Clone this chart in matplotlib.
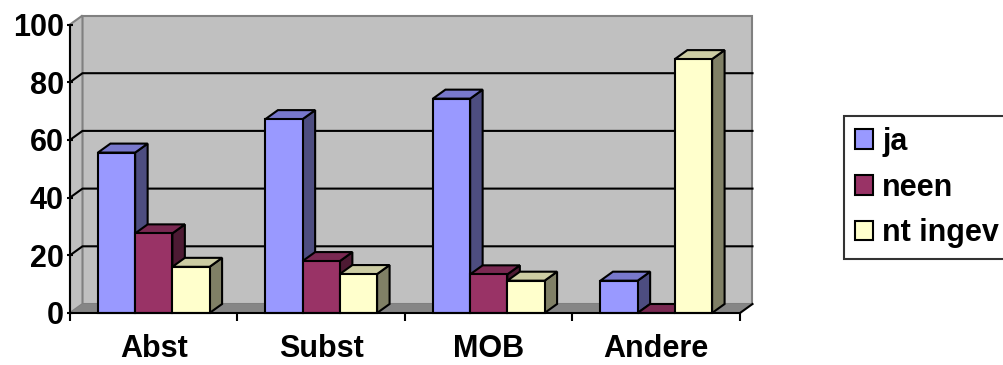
import matplotlib
matplotlib.use("Agg")
import matplotlib.pyplot as plt
from matplotlib.patches import Polygon, Patch

plt.rcParams['font.family'] = ['Liberation Sans', 'DejaVu Sans']
plt.rcParams['font.weight'] = 'bold'

categories = ["Abst", "Subst", "MOB", "Andere"]
series = ["ja", "neen", "nt ingev"]
ja = [55.6, 67.2, 74.3, 11.2]
neen = [27.6, 18.0, 13.4, 0.0]
nt_ingev = [16.0, 13.5, 11.2, 88.0]
yticks = [0, 20, 40, 60, 80, 100]

values = [ja, neen, nt_ingev]
front = ["#9999FF", "#993366", "#FFFFCC"]
top = ["#7878CC", "#7A2952", "#CCCCA3"]
side = ["#4D4D80", "#4D1A33", "#808066"]

W, H = 1004, 365
fig = plt.figure(figsize=(W / 100, H / 100), dpi=100)
ax = fig.add_axes([70 / W, 52 / H, 670 / W, 288.5 / H])
ax.set_xlim(0, 4)
ax.set_ylim(0, 100)
for s in ["top", "right"]:
    ax.spines[s].set_visible(False)
for s in ["left", "bottom"]:
    ax.spines[s].set_linewidth(1.5)
    ax.spines[s].set_zorder(20)

# depth of the 3d box in data units
dx = 12.5 * 4 / 670
dy = 9 * 100 / 288.5
n = len(categories)
ymax = yticks[-1]

wall = "#C0C0C0"
edge = "#808080"

def poly(pts, fc, ec, lw, z):
    p = Polygon(pts, closed=True, facecolor=fc, edgecolor=ec, linewidth=lw,
                zorder=z, clip_on=False, joinstyle="miter")
    ax.add_patch(p)

# back wall, side wall, floor
poly([(dx, dy), (n + dx, dy), (n + dx, ymax + dy), (dx, ymax + dy)], wall, edge, 1.5, 1)
poly([(0, 0), (dx, dy), (dx, ymax + dy), (0, ymax)], wall, edge, 1.5, 1)
poly([(0, 0), (n, 0), (n + dx, dy), (dx, dy)], "#868686", "none", 0, 1.5)
ax.plot([n, n + dx], [0, dy], color="black", lw=1.5, zorder=2, clip_on=False)

# gridlines run along the side wall and across the back wall
for v in yticks[1:-1]:
    ax.plot([0, dx, n + dx], [v, v + dy, v + dy], color="black", lw=1.5,
            zorder=2, clip_on=False)

# 3d columns
w = 1 / (len(series) + 1.5)
for i in range(n):
    for j in range(len(series)):
        v = values[j][i]
        x0 = i + 0.75 * w + j * w
        z = 3 + i * 3 + j
        poly([(x0 + w, 0), (x0 + w + dx, dy), (x0 + w + dx, v + dy), (x0 + w, v)],
             side[j], "black", 1.5, z)
        poly([(x0, v), (x0 + w, v), (x0 + w + dx, v + dy), (x0 + dx, v + dy)],
             top[j], "black", 1.5, z)
        if v > 0:
            poly([(x0, 0), (x0 + w, 0), (x0 + w, v), (x0, v)], front[j], "black", 1.5, z)

ax.set_yticks(yticks)
ax.set_yticklabels([str(t) for t in yticks])
ax.tick_params(axis="y", direction="inout", length=5, width=1.5, pad=2, labelsize=22)
ax.set_xticks(range(n + 1))
ax.set_xticklabels([""] * (n + 1))
ax.set_xticks([i + 0.5 for i in range(n)], minor=True)
ax.set_xticklabels(categories, minor=True)
ax.tick_params(axis="x", which="major", direction="out", length=6, width=1.5)
ax.tick_params(axis="x", which="minor", length=0, pad=15, labelsize=22)

handles = [Patch(facecolor=front[j], edgecolor="black", linewidth=1.5, label=series[j])
           for j in range(len(series))]
leg = fig.legend(handles=handles, loc="upper left", bbox_to_anchor=(844 / W, 1 - 116 / H),
                 fontsize=22, frameon=True, fancybox=False, borderpad=0.35,
                 handlelength=0.6, handleheight=0.6, handletextpad=0.3,
                 labelspacing=0.52, borderaxespad=0)
leg.get_frame().set_edgecolor("black")
leg.get_frame().set_linewidth(1.5)

fig.savefig("out.png", dpi=100)
